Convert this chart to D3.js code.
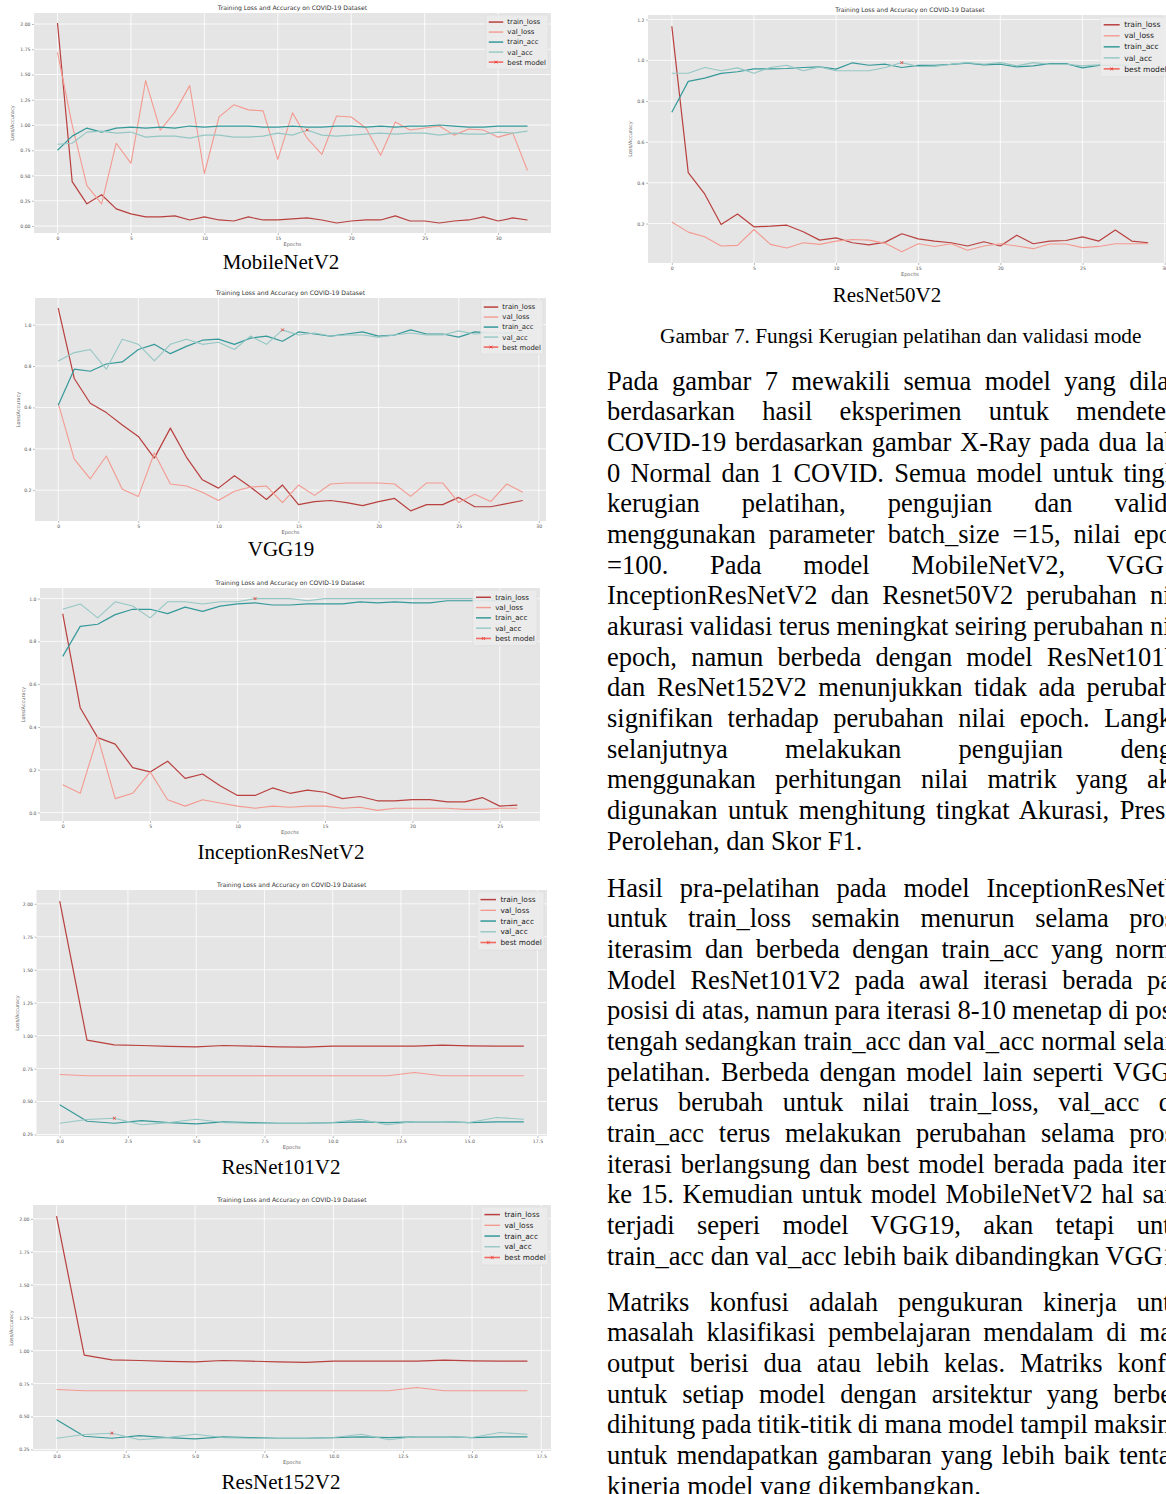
<!DOCTYPE html>
<html>
<head>
<meta charset="utf-8">
<script src="https://cdn.jsdelivr.net/npm/d3@7"></script>
<style>
	html, body { margin: 0; padding: 0; background: #fff; }
	body { width: 1166px; height: 1494px; overflow: hidden; position: relative; }
	#page { position: absolute; left: 0; top: 0; }
	.bodyLine { position: absolute; white-space: nowrap; font-family: "Liberation Serif", "Times New Roman", serif; font-size: 26.5px; line-height: 30.67px; color: #000; }
</style>
</head>
<body>
<svg id="page" width="1166" height="1494"></svg>
<div id="bodyText"></div>
<script>
// ---- data ----
const seriesNames = ['train_loss', 'val_loss', 'train_acc', 'val_acc'];

const mobTrainLoss = [2.01,0.44,0.22,0.31,0.17,0.12,0.09,0.09,0.10,0.06,0.09,0.06,0.05,0.09,0.06,0.06,0.07,0.08,0.06,0.03,0.05,0.06,0.06,0.10,0.05,0.05,0.03,0.05,0.06,0.09,0.05,0.08,0.06];
const mobValLoss = [1.72,1.00,0.40,0.22,0.82,0.62,1.44,0.95,1.13,1.39,0.52,1.08,1.20,1.15,1.14,0.66,1.12,0.87,0.71,1.09,1.08,0.97,0.70,1.03,0.95,0.97,0.99,0.90,0.96,0.95,0.88,0.92,0.55];
const mobTrainAcc = [0.75,0.89,0.97,0.93,0.97,0.98,0.97,0.98,0.97,0.99,0.98,0.99,0.99,0.99,0.98,0.98,0.99,0.98,0.98,0.99,0.99,0.98,0.99,0.98,0.99,0.99,1.00,0.99,0.98,0.98,0.99,0.99,0.99];
const mobValAcc = [0.81,0.82,0.93,0.94,0.92,0.93,0.88,0.89,0.89,0.87,0.90,0.90,0.88,0.88,0.89,0.92,0.90,0.95,0.90,0.89,0.90,0.91,0.92,0.91,0.92,0.92,0.90,0.92,0.91,0.91,0.93,0.92,0.94];
const mobBest = [17, 0.95];

const r50TrainLoss = [1.167,0.45,0.345,0.195,0.247,0.184,0.187,0.192,0.16,0.119,0.13,0.106,0.096,0.109,0.15,0.125,0.114,0.106,0.09,0.111,0.09,0.143,0.101,0.114,0.117,0.135,0.114,0.168,0.114,0.106];
const r50ValLoss = [0.208,0.158,0.135,0.09,0.093,0.171,0.098,0.08,0.106,0.098,0.114,0.122,0.119,0.103,0.062,0.101,0.088,0.101,0.069,0.09,0.101,0.09,0.077,0.1,0.1,0.082,0.088,0.101,0.101,0.101];
const r50TrainAcc = [0.746,0.897,0.913,0.936,0.944,0.958,0.958,0.96,0.965,0.968,0.957,0.988,0.976,0.981,0.965,0.975,0.976,0.98,0.986,0.978,0.981,0.968,0.973,0.984,0.984,0.963,0.975,0.978,0.976,0.976];
const r50ValAcc = [0.937,0.937,0.965,0.949,0.963,0.937,0.965,0.976,0.949,0.968,0.949,0.949,0.949,0.965,0.989,0.97,0.97,0.981,0.989,0.981,0.989,0.973,0.989,0.981,0.981,0.973,0.978,0.981,0.976,0.976];
const r50Best = [14, 0.989];

const vggTrainLoss = [1.08,0.74,0.62,0.575,0.515,0.46,0.355,0.50,0.36,0.25,0.21,0.27,0.215,0.155,0.225,0.13,0.145,0.15,0.14,0.125,0.145,0.16,0.10,0.13,0.13,0.165,0.12,0.12,0.135,0.15];
const vggValLoss = [0.62,0.35,0.255,0.365,0.205,0.17,0.38,0.23,0.22,0.19,0.15,0.195,0.215,0.22,0.14,0.225,0.175,0.23,0.235,0.235,0.235,0.23,0.17,0.235,0.235,0.14,0.18,0.145,0.23,0.19];
const vggTrainAcc = [0.61,0.785,0.775,0.81,0.82,0.88,0.905,0.86,0.895,0.925,0.93,0.905,0.935,0.945,0.92,0.965,0.955,0.945,0.955,0.965,0.945,0.95,0.975,0.955,0.955,0.94,0.965,0.96,0.96,0.96];
const vggValAcc = [0.825,0.865,0.88,0.785,0.93,0.905,0.825,0.905,0.93,0.905,0.915,0.88,0.945,0.905,0.975,0.95,0.96,0.945,0.95,0.95,0.94,0.95,0.96,0.95,0.95,0.97,0.955,0.96,0.96,0.96];
const vggBest = [14, 0.975];

const incTrainLoss = [0.93,0.49,0.35,0.32,0.21,0.19,0.24,0.16,0.18,0.125,0.08,0.08,0.115,0.09,0.105,0.095,0.065,0.075,0.055,0.055,0.06,0.06,0.05,0.05,0.07,0.03,0.035];
const incValLoss = [0.13,0.09,0.355,0.065,0.09,0.19,0.06,0.03,0.06,0.045,0.03,0.02,0.03,0.025,0.03,0.03,0.02,0.025,0.01,0.02,0.02,0.02,0.02,0.015,0.015,0.02,0.02];
const incTrainAcc = [0.73,0.87,0.88,0.925,0.95,0.95,0.93,0.96,0.94,0.965,0.975,0.98,0.97,0.97,0.975,0.975,0.975,0.985,0.98,0.985,0.98,0.98,0.99,0.99,0.99,0.99,0.99];
const incValAcc = [0.95,0.975,0.91,0.985,0.965,0.91,0.985,0.985,0.975,0.985,0.985,1.0,1.0,1.0,0.99,1.0,1.0,1.0,1.0,1.0,1.0,1.0,1.0,1.0,1.0,1.0,1.0];
const incBest = [11, 1.0];

const r101TrainLoss = [2.02,0.965,0.93,0.925,0.918,0.915,0.925,0.92,0.915,0.913,0.92,0.92,0.92,0.92,0.927,0.922,0.92,0.92];
const r101ValLoss = [0.705,0.695,0.695,0.695,0.695,0.695,0.695,0.695,0.695,0.695,0.695,0.695,0.695,0.72,0.695,0.695,0.695,0.695];
const r101TrainAcc = [0.475,0.35,0.335,0.355,0.34,0.33,0.345,0.34,0.335,0.335,0.34,0.345,0.34,0.345,0.347,0.34,0.345,0.345];
const r101ValAcc = [0.335,0.363,0.373,0.323,0.34,0.365,0.34,0.335,0.335,0.335,0.34,0.365,0.323,0.348,0.348,0.34,0.378,0.365];
const r101Best = [2, 0.373];

const r152TrainLoss = [2.02,0.965,0.93,0.925,0.918,0.915,0.925,0.92,0.915,0.91,0.92,0.92,0.92,0.92,0.927,0.922,0.92,0.92];
const r152ValLoss = [0.705,0.695,0.695,0.695,0.695,0.695,0.695,0.695,0.695,0.695,0.695,0.695,0.695,0.72,0.695,0.695,0.695,0.695];
const r152TrainAcc = [0.475,0.35,0.335,0.355,0.34,0.33,0.345,0.34,0.335,0.335,0.34,0.345,0.34,0.345,0.347,0.34,0.345,0.345];
const r152ValAcc = [0.335,0.363,0.373,0.323,0.34,0.365,0.34,0.335,0.335,0.335,0.34,0.365,0.323,0.348,0.348,0.34,0.378,0.365];
const r152Best = [2, 0.373];

const figureCaption = 'Gambar 7. Fungsi Kerugian pelatihan dan validasi mode';
const paragraph1 = [
	'Pada gambar 7 mewakili semua model yang dilatih',
	'berdasarkan hasil eksperimen untuk mendeteksi',
	'COVID-19 berdasarkan gambar X-Ray pada dua label',
	'0 Normal dan 1 COVID. Semua model untuk tingkat',
	'kerugian pelatihan, pengujian dan validasi',
	'menggunakan parameter batch_size =15, nilai epoch',
	'=100. Pada model MobileNetV2, VGG19,',
	'InceptionResNetV2 dan Resnet50V2 perubahan nilai',
	'akurasi validasi terus meningkat seiring perubahan nilai',
	'epoch, namun berbeda dengan model ResNet101V2',
	'dan ResNet152V2 menunjukkan tidak ada perubahan',
	'signifikan terhadap perubahan nilai epoch. Langkah',
	'selanjutnya melakukan pengujian dengan',
	'menggunakan perhitungan nilai matrik yang akan',
	'digunakan untuk menghitung tingkat Akurasi, Presisi,',
	'Perolehan, dan Skor F1.'
];
const paragraph2 = [
	'Hasil pra-pelatihan pada model InceptionResNetV2',
	'untuk train_loss semakin menurun selama proses',
	'iterasim dan berbeda dengan train_acc yang normal.',
	'Model ResNet101V2 pada awal iterasi berada pada',
	'posisi di atas, namun para iterasi 8-10 menetap di posisi',
	'tengah sedangkan train_acc dan val_acc normal selama',
	'pelatihan. Berbeda dengan model lain seperti VGG19',
	'terus berubah untuk nilai train_loss, val_acc dan',
	'train_acc terus melakukan perubahan selama proses',
	'iterasi berlangsung dan best model berada pada iterasi',
	'ke 15. Kemudian untuk model MobileNetV2 hal sama',
	'terjadi seperi model VGG19, akan tetapi untuk',
	'train_acc dan val_acc lebih baik dibandingkan VGG19.'
];
const paragraph3 = [
	'Matriks konfusi adalah pengukuran kinerja untuk',
	'masalah klasifikasi pembelajaran mendalam di mana',
	'output berisi dua atau lebih kelas. Matriks konfusi',
	'untuk setiap model dengan arsitektur yang berbeda',
	'dihitung pada titik-titik di mana model tampil maksimal',
	'untuk mendapatkan gambaran yang lebih baik tentang',
	'kinerja model yang dikembangkan.'
];

// ---- layout ----
const seriesColors = ['#b8403e', '#f39a90', '#36999a', '#94c7c4'];
const seriesWidths = [1.2, 1.1, 1.2, 1.1];
const bestColor = '#ea3b33';
const chartTitle = 'Training Loss and Accuracy on COVID-19 Dataset';

const charts = [
	{ name: 'MobileNetV2', series: [mobTrainLoss, mobValLoss, mobTrainAcc, mobValAcc], best: mobBest,
		box: [34, 13, 551, 233], xStep: 5, yStep: 0.25, xFmt: 'd', yFmt: '.2f', fs: 6.9, yLabelDx: 20, cap: [281, 262] },
	{ name: 'ResNet50V2', series: [r50TrainLoss, r50ValLoss, r50TrainAcc, r50ValAcc], best: r50Best,
		box: [648, 15, 1172, 263], xStep: 5, yStep: 0.2, xFmt: 'd', yFmt: '.1f', fs: 7.6, yLabelDx: 16, cap: [887, 295] },
	{ name: 'VGG19', series: [vggTrainLoss, vggValLoss, vggTrainAcc, vggValAcc], best: vggBest,
		box: [35, 298, 546, 521], xStep: 5, yStep: 0.2, xFmt: 'd', yFmt: '.1f', fs: 6.9, yLabelDx: 15, cap: [281, 549] },
	{ name: 'InceptionResNetV2', series: [incTrainLoss, incValLoss, incTrainAcc, incValAcc], best: incBest,
		box: [40, 588, 540, 821], xStep: 5, yStep: 0.2, xFmt: 'd', yFmt: '.1f', fs: 7.1, yLabelDx: 15, cap: [281, 852] },
	{ name: 'ResNet101V2', series: [r101TrainLoss, r101ValLoss, r101TrainAcc, r101ValAcc], best: r101Best,
		box: [36.5, 890, 547, 1136], xStep: 2.5, yStep: 0.25, xFmt: '.1f', yFmt: '.2f', fs: 7.4, yLabelDx: 18, cap: [281, 1167] },
	{ name: 'ResNet152V2', series: [r152TrainLoss, r152ValLoss, r152TrainAcc, r152ValAcc], best: r152Best,
		box: [33, 1205, 551, 1451], xStep: 2.5, yStep: 0.25, xFmt: '.1f', yFmt: '.2f', fs: 7.4, yLabelDx: 20, cap: [281, 1482] }
];

const svg = d3.select('#page');
svg.append('rect').attr('width', 1166).attr('height', 1494).attr('fill', '#fff');

function stepTicks(domain, step) {
	const start = Math.ceil(domain[0] / step - 1e-9) * step;
	return d3.range(start, domain[1] + 1e-9, step);
}

function drawX(g, cx, cy, s, color, w) {
	g.append('path')
		.attr('d', `M${cx - s},${cy - s}L${cx + s},${cy + s}M${cx - s},${cy + s}L${cx + s},${cy - s}`)
		.attr('stroke', color).attr('stroke-width', w).attr('fill', 'none');
}

function drawChart(c) {
	const [x0, y0, x1, y1] = c.box;
	const n = c.series[0].length;
	const all = c.series.flat();
	const lo = d3.min(all), hi = d3.max(all);
	// matplotlib style 5% margins
	const xDomain = [-0.05 * (n - 1), (n - 1) * 1.05];
	const yDomain = [lo - 0.05 * (hi - lo), hi + 0.05 * (hi - lo)];

	const x = d3.scaleLinear().domain(xDomain).range([x0, x1]);
	const y = d3.scaleLinear().domain(yDomain).range([y1, y0]);
	const xt = stepTicks(xDomain, c.xStep);
	const yt = stepTicks(yDomain, c.yStep);

	const g = svg.append('g');
	g.append('rect').attr('x', x0).attr('y', y0).attr('width', x1 - x0).attr('height', y1 - y0).attr('fill', '#e5e5e5');

	// grid
	g.selectAll('.gx').data(xt).enter().append('line')
		.attr('x1', d => x(d)).attr('x2', d => x(d)).attr('y1', y0).attr('y2', y1)
		.attr('stroke', '#fff').attr('stroke-width', 0.8);
	g.selectAll('.gy').data(yt).enter().append('line')
		.attr('x1', x0).attr('x2', x1).attr('y1', d => y(d)).attr('y2', d => y(d))
		.attr('stroke', '#fff').attr('stroke-width', 0.8);

	// axes
	const styleAxis = a => {
		a.select('.domain').remove();
		a.attr('font-size', 4.6).attr('font-family', '"DejaVu Sans", sans-serif');
		a.selectAll('text').attr('fill', '#555');
		a.selectAll('line').attr('stroke', '#777').attr('stroke-width', 0.5);
	};
	g.append('g').attr('transform', `translate(0,${y1})`)
		.call(d3.axisBottom(x).tickValues(xt).tickSize(2).tickPadding(1.5).tickFormat(d3.format(c.xFmt)))
		.call(styleAxis);
	g.append('g').attr('transform', `translate(${x0},0)`)
		.call(d3.axisLeft(y).tickValues(yt).tickSize(2).tickPadding(1.5).tickFormat(d3.format(c.yFmt)))
		.call(styleAxis);

	// title and labels
	g.append('text').attr('x', (x0 + x1) / 2).attr('y', y0 - 3)
		.attr('text-anchor', 'middle').attr('font-family', '"DejaVu Sans", sans-serif')
		.attr('font-size', 6.1).attr('fill', '#333').text(chartTitle);
	g.append('text').attr('x', (x0 + x1) / 2).attr('y', y1 + 12.5)
		.attr('text-anchor', 'middle').attr('font-family', '"DejaVu Sans", sans-serif')
		.attr('font-size', 5).attr('fill', '#666').text('Epochs');
	g.append('text')
		.attr('transform', `translate(${x0 - c.yLabelDx},${(y0 + y1) / 2}) rotate(-90)`)
		.attr('text-anchor', 'middle').attr('font-family', '"DejaVu Sans", sans-serif')
		.attr('font-size', 5).attr('fill', '#666').text('Loss/Accuracy');

	// lines
	const line = d3.line().x((d, i) => x(i)).y(d => y(d));
	c.series.forEach((s, k) => {
		g.append('path').attr('d', line(s)).attr('fill', 'none')
			.attr('stroke', seriesColors[k]).attr('stroke-width', seriesWidths[k])
			.attr('stroke-linejoin', 'round');
	});
	drawX(g, x(c.best[0]), y(c.best[1]), 1.4, bestColor, 0.9);

	// legend
	const fs = c.fs, rowH = fs * 1.45, handle = fs * 2.1, pad = fs * 0.3, gap = fs * 0.75;
	const lg = g.append('g');
	const box = lg.append('rect').attr('rx', 1.5).attr('fill', '#ebebeb').attr('fill-opacity', 0.9)
		.attr('stroke', '#d8d8d8').attr('stroke-width', 0.5);
	const labels = [...seriesNames, 'best model'];
	let maxW = 0;
	const texts = labels.map((t, i) => {
		const el = lg.append('text').attr('y', rowH * (i + 0.5) + fs * 0.35)
			.attr('font-family', '"DejaVu Sans", sans-serif').attr('font-size', fs).attr('fill', '#222').text(t);
		maxW = Math.max(maxW, el.node().getComputedTextLength());
		return el;
	});
	const bw = pad * 2 + handle + gap + maxW, bh = rowH * labels.length + pad * 2;
	const bx = x1 - 3 - bw, by = y0 + 2;
	box.attr('x', bx).attr('y', by).attr('width', bw).attr('height', bh);
	texts.forEach(t => t.attr('x', bx + pad + handle + gap).attr('y', +t.attr('y') + by + pad));
	labels.forEach((t, i) => {
		const cy = by + pad + rowH * (i + 0.5);
		const hx = bx + pad * 1.5;
		if (i < 4) {
			lg.append('line').attr('x1', hx).attr('x2', hx + handle).attr('y1', cy).attr('y2', cy)
				.attr('stroke', seriesColors[i]).attr('stroke-width', seriesWidths[i] + 0.3);
		} else {
			lg.append('line').attr('x1', hx).attr('x2', hx + handle).attr('y1', cy).attr('y2', cy)
				.attr('stroke', '#f06a62').attr('stroke-width', 1.6);
			drawX(lg, hx + handle / 2, cy, 1.4, bestColor, 0.9);
		}
	});

	// caption below the figure
	svg.append('text').attr('x', c.cap[0]).attr('y', c.cap[1] + 7)
		.attr('text-anchor', 'middle').attr('font-family', '"Liberation Serif", "Times New Roman", serif')
		.attr('font-size', 21).attr('fill', '#000').text(c.name);
}

charts.forEach(drawChart);

svg.append('text').attr('x', 660).attr('y', 343)
	.attr('font-family', '"Liberation Serif", "Times New Roman", serif')
	.attr('font-size', 21.3).attr('fill', '#000').text(figureCaption);

// body text, justified line by line
const colLeft = 607, colWidth = 590, lineH = 30.67;
const paragraphs = [
	{ lines: paragraph1, top: 381 - 15.5 },
	{ lines: paragraph2, top: 888 - 15.5 },
	{ lines: paragraph3, top: 1302 - 15.5 }
];
const bodyText = d3.select('#bodyText');
paragraphs.forEach(p => {
	p.lines.forEach((t, i) => {
		const div = bodyText.append('div').attr('class', 'bodyLine')
			.style('left', colLeft + 'px').style('top', (p.top + i * lineH) + 'px').text(t);
		if (i < p.lines.length - 1) {
			const w = div.node().getBoundingClientRect().width;
			const spaces = (t.match(/ /g) || []).length;
			if (spaces) div.style('word-spacing', ((colWidth - w) / spaces) + 'px');
		}
	});
});
</script>
</body>
</html>
